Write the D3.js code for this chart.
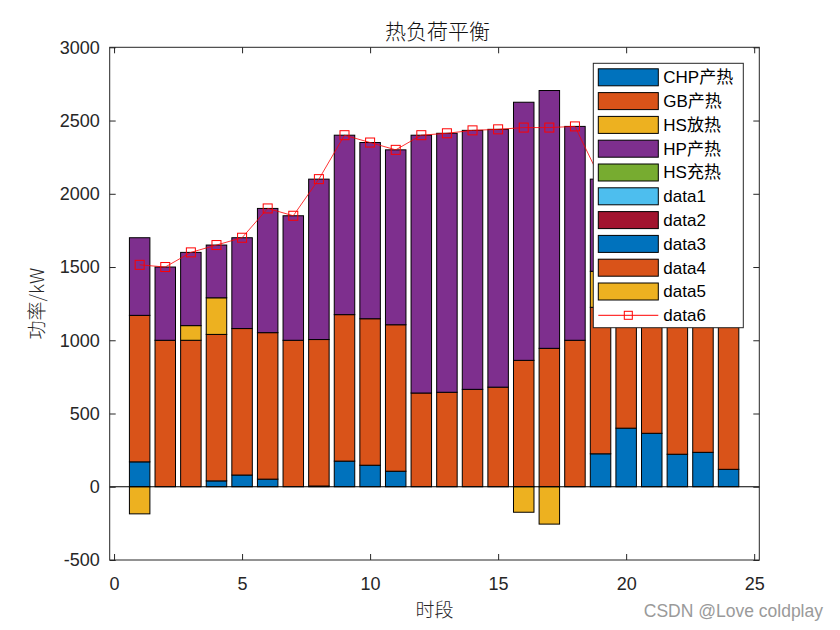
<!DOCTYPE html>
<html><head><meta charset="utf-8">
<script src="https://cdn.jsdelivr.net/npm/d3@7"></script>
<style>body{margin:0;background:#fff;} svg{display:block;}</style>
</head><body>
<script>
// ---- data ----
const hours = [1,2,3,4,5,6,7,8,9,10,11,12,13,14,15,16,17,18,19,20,21,22,23,24];
const chp    = [170,0,0,40,80,52,0,5,175,147,106,0,0,0,0,0,0,0,225,400,365,222,235,119];
const gb     = [1000,1000,1000,1000,1000,1000,1000,1000,1000,1000,1000,640,645,665,680,863,945,1000,1000,1000,1000,1000,1000,1000];
const hsOut  = [0,0,100,250,0,0,0,0,0,0,0,0,0,0,0,0,0,0,246,0,0,0,0,0];
const hp     = [530,500,500,360,620,848,850,1095,1225,1203,1194,1760,1768,1768,1760,1762,1760,1460,629,600,535,580,465,480];
const hsIn   = [-185,0,0,0,0,0,0,0,0,0,0,0,0,0,0,-174,-255,0,0,0,0,0,0,0];
const load   = [1515,1500,1600,1650,1700,1900,1850,2100,2400,2350,2300,2400,2413,2433,2440,2452,2452,2460,2100,2000,1900,1800,1700,1600];
const legendLabels = ["CHP产热","GB产热","HS放热","HP产热","HS充热","data1","data2","data3","data4","data5","data6"];
const xTicks = [0,5,10,15,20,25];
const yTicks = [-500,0,500,1000,1500,2000,2500,3000];

// ---- styles ----
const colors = ["#0072BD","#D95319","#EDB120","#7E2F8E","#77AC30","#4DBEEE","#A2142F","#0072BD","#D95319","#EDB120"];
const W = 840, H = 630;
const L = 109.7, R = 759.3, T = 47.3, B = 560;
const axisColor = "#262626";
const font = "'Liberation Sans', Arial, 'Noto Sans CJK SC', sans-serif";
const cjkFont = "'Noto Sans CJK SC', 'Liberation Sans', sans-serif";
const fmt = d => String(d);

const svg = d3.select("body").append("svg").attr("width", W).attr("height", H);
const x = d3.scaleLinear().domain([-0.17, 25.2]).range([L, R]);
const y = d3.scaleLinear().domain([-500, 3000]).range([B, T]);

const bw = x(0.8) - x(0);

// stacked positive series
const posSeries = [chp, gb, hsOut, hp];
const g = svg.append("g");
posSeries.forEach((arr, si) => {
  g.selectAll(null).data(hours).enter().append("rect")
    .attr("x", (d) => x(d) - bw/2)
    .attr("y", (d, i) => {
      let base = 0; for (let k = 0; k <= si; k++) base += posSeries[k][i];
      return y(base);
    })
    .attr("width", bw)
    .attr("height", (d, i) => y(0) - y(arr[i]))
    .attr("fill", colors[si])
    .attr("stroke", "#000")
    .attr("stroke-width", 1)
    .style("display", (d, i) => arr[i] === 0 ? "none" : null);
});
// negative (charging) bars
g.selectAll(null).data(hours).enter().append("rect")
  .attr("x", d => x(d) - bw/2)
  .attr("y", y(0))
  .attr("width", bw)
  .attr("height", (d, i) => y(hsIn[i]) - y(0))
  .attr("fill", colors[9])
  .attr("stroke", "#000").attr("stroke-width", 1)
  .style("display", (d, i) => hsIn[i] === 0 ? "none" : null);

// baseline
svg.append("line").attr("x1", L).attr("x2", R).attr("y1", y(0)).attr("y2", y(0))
  .attr("stroke", "#000").attr("stroke-width", 1);

// load line
const line = d3.line().x((d, i) => x(hours[i])).y(d => y(d));
svg.append("path").datum(load).attr("d", line).attr("fill", "none").attr("stroke", "#FF0000").attr("stroke-width", 0.8);
svg.selectAll(null).data(load).enter().append("rect")
  .attr("x", (d, i) => x(hours[i]) - 4.5).attr("y", d => y(d) - 4.5)
  .attr("width", 9).attr("height", 9)
  .attr("fill", "none").attr("stroke", "#FF0000").attr("stroke-width", 1);

// axes
function styleAxis(sel) {
  sel.select(".domain").remove();
  sel.selectAll(".tick line").attr("stroke", axisColor);
  sel.selectAll(".tick text").attr("fill", axisColor).style("font-family", font).style("font-size", "18px");
}
svg.append("g").attr("transform", `translate(0,${B})`)
  .call(d3.axisBottom(x).tickValues(xTicks).tickSize(-6).tickPadding(17).tickFormat(fmt))
  .call(styleAxis);
svg.append("g").attr("transform", `translate(0,${T})`)
  .call(d3.axisTop(x).tickValues(xTicks).tickSize(-6).tickFormat(""))
  .call(styleAxis);
svg.append("g").attr("transform", `translate(${L},0)`)
  .call(d3.axisLeft(y).tickValues(yTicks).tickSize(-6).tickPadding(10).tickFormat(fmt))
  .call(styleAxis);
svg.append("g").attr("transform", `translate(${R},0)`)
  .call(d3.axisRight(y).tickValues(yTicks).tickSize(-6).tickFormat(""))
  .call(styleAxis);
svg.append("rect").attr("x", L).attr("y", T).attr("width", R - L).attr("height", B - T)
  .attr("fill", "none").attr("stroke", axisColor).attr("stroke-width", 1);

// titles
svg.append("text").attr("x", (L + R) / 2 + 3).attr("y", 39).attr("text-anchor", "middle")
  .style("font-family", cjkFont).style("font-size", "21px").style("font-weight", 300).attr("fill", "#111").text("热负荷平衡");
svg.append("text").attr("x", (L + R) / 2).attr("y", 617).attr("text-anchor", "middle")
  .style("font-family", cjkFont).style("font-size", "19px").style("font-weight", 300).attr("fill", axisColor).text("时段");
svg.append("text").attr("transform", `translate(44,${(T + B) / 2}) rotate(-90)`).attr("text-anchor", "middle")
  .style("font-family", cjkFont).style("font-size", "19px").style("font-weight", 300).attr("fill", axisColor).text("功率/kW");

// legend
const lg = svg.append("g").attr("transform", "translate(593.3,63.3)");
lg.append("rect").attr("width", 150).attr("height", 264.4).attr("fill", "#fff").attr("stroke", axisColor).attr("stroke-width", 1);
legendLabels.forEach((lab, i) => {
  const cy = 14 + i * 23.8;
  if (i < 10) {
    lg.append("rect").attr("x", 5).attr("y", cy - 8.5).attr("width", 60).attr("height", 17)
      .attr("fill", colors[i]).attr("stroke", "#000").attr("stroke-width", 1);
  } else {
    lg.append("line").attr("x1", 5).attr("x2", 65).attr("y1", cy).attr("y2", cy).attr("stroke", "#FF0000").attr("stroke-width", 1);
    lg.append("rect").attr("x", 31).attr("y", cy - 4).attr("width", 8).attr("height", 8).attr("fill", "none").attr("stroke", "#FF0000");
  }
  lg.append("text").attr("x", 70).attr("y", cy).attr("dy", "0.35em")
    .style("font-family", font).style("font-size", "17px").attr("fill", "#000").text(lab);
});

// watermark
svg.append("text").attr("x", 823).attr("y", 617).attr("text-anchor", "end")
  .style("font-family", font).style("font-size", "17.5px").attr("fill", "#9a9a9a").text("CSDN @Love coldplay");
</script>
</body></html>
